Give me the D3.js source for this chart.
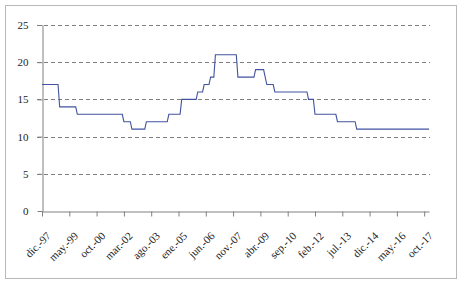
<!DOCTYPE html>
<html>
<head>
<meta charset="utf-8">
<script src="https://cdn.jsdelivr.net/npm/d3@7"></script>
<style>
  body { margin: 0; background: #fff; }
  svg { display: block; }
  text { font-family: "Liberation Serif", "DejaVu Serif", serif; font-size: 11px; fill: #222; }
</style>
</head>
<body>
<div id="chart"></div>
<script>
// turning points of the step series (month, value)
const months = [
  "1997-12", "1998-10", "1998-11", "1999-09", "1999-10", "2002-02",
  "2002-03", "2002-07", "2002-08", "2003-04", "2003-05", "2004-06",
  "2004-07", "2005-02", "2005-03", "2005-12", "2006-01", "2006-04",
  "2006-05", "2006-08", "2006-09", "2006-11", "2006-12", "2008-01",
  "2008-02", "2008-12", "2009-01", "2009-06", "2009-07", "2009-08",
  "2009-12", "2010-01", "2011-09", "2011-10", "2012-01", "2012-02",
  "2013-03", "2013-04", "2014-03", "2014-04", "2018-01"
];
const values = [
  17, 17, 14, 14, 13, 13,
  12, 12, 11, 11, 12, 12,
  13, 13, 15, 15, 16, 16,
  17, 17, 18, 18, 21, 21,
  18, 18, 19, 19, 18, 17,
  17, 16, 16, 15, 15, 13,
  13, 12, 12, 11, 11
];
const tickLabels = [
  "dic.-97", "may.-99", "oct.-00", "mar.-02", "ago.-03", "ene.-05",
  "jun.-06", "nov.-07", "abr.-09", "sep.-10", "feb.-12", "jul.-13",
  "dic.-14", "may.-16", "oct.-17"
];
const yTicks = [0, 5, 10, 15, 20, 25];

const width = 462, height = 284;
const start = "1997-12";
const monthIndex = (s) => {
  const [y, m] = s.split("-").map(Number);
  const [y0, m0] = start.split("-").map(Number);
  return (y - y0) * 12 + (m - m0);
};
const data = months.map((m, i) => ({ m: monthIndex(m), v: values[i] }));

const svg = d3.select("#chart").append("svg")
  .attr("width", width)
  .attr("height", height);

// outer frame
svg.append("rect")
  .attr("x", 5.5).attr("y", 5.5)
  .attr("width", 451).attr("height", 273)
  .attr("fill", "#fff")
  .attr("stroke", "#b8b8b8");

const x = d3.scaleLinear().domain([0, monthIndex("2018-01")]).range([42, 429]);
const y = d3.scaleLinear().domain([0, 25]).range([211, 25]);

// gridlines
svg.append("g")
  .selectAll("line")
  .data(yTicks.filter(d => d > 0))
  .join("line")
  .attr("x1", 37).attr("x2", 430)
  .attr("y1", d => Math.round(y(d)) + 0.5)
  .attr("y2", d => Math.round(y(d)) + 0.5)
  .attr("stroke", "#808080")
  .attr("stroke-dasharray", "4,3");

// y axis
const yAxis = svg.append("g")
  .attr("transform", "translate(42.5,0)")
  .call(d3.axisLeft(y).tickValues(yTicks).tickSize(5).tickSizeOuter(0).tickPadding(9));
yAxis.select(".domain").attr("stroke", "#808080");
yAxis.selectAll(".tick line").attr("stroke", "#808080");
yAxis.selectAll(".tick text").attr("font-family", null).attr("font-size", null);

// x axis
const xAxis = svg.append("g")
  .attr("transform", "translate(0,211.5)")
  .call(d3.axisBottom(x)
    .tickValues(tickLabels.map((d, i) => i * 17))
    .tickFormat((d, i) => tickLabels[i])
    .tickSize(5).tickSizeOuter(0));
xAxis.select(".domain").attr("stroke", "#808080");
xAxis.selectAll(".tick line").attr("stroke", "#808080");
xAxis.selectAll(".tick text")
  .attr("font-family", null).attr("font-size", null)
  .attr("text-anchor", "end")
  .attr("dy", null)
  .attr("y", 0)
  .attr("transform", "translate(9,25) rotate(-45)");

// series line
svg.append("path")
  .datum(data)
  .attr("fill", "none")
  .attr("stroke", "#41539e")
  .attr("stroke-width", 1.1)
  .attr("d", d3.line().x(d => x(d.m)).y(d => y(d.v)));
</script>
</body>
</html>
